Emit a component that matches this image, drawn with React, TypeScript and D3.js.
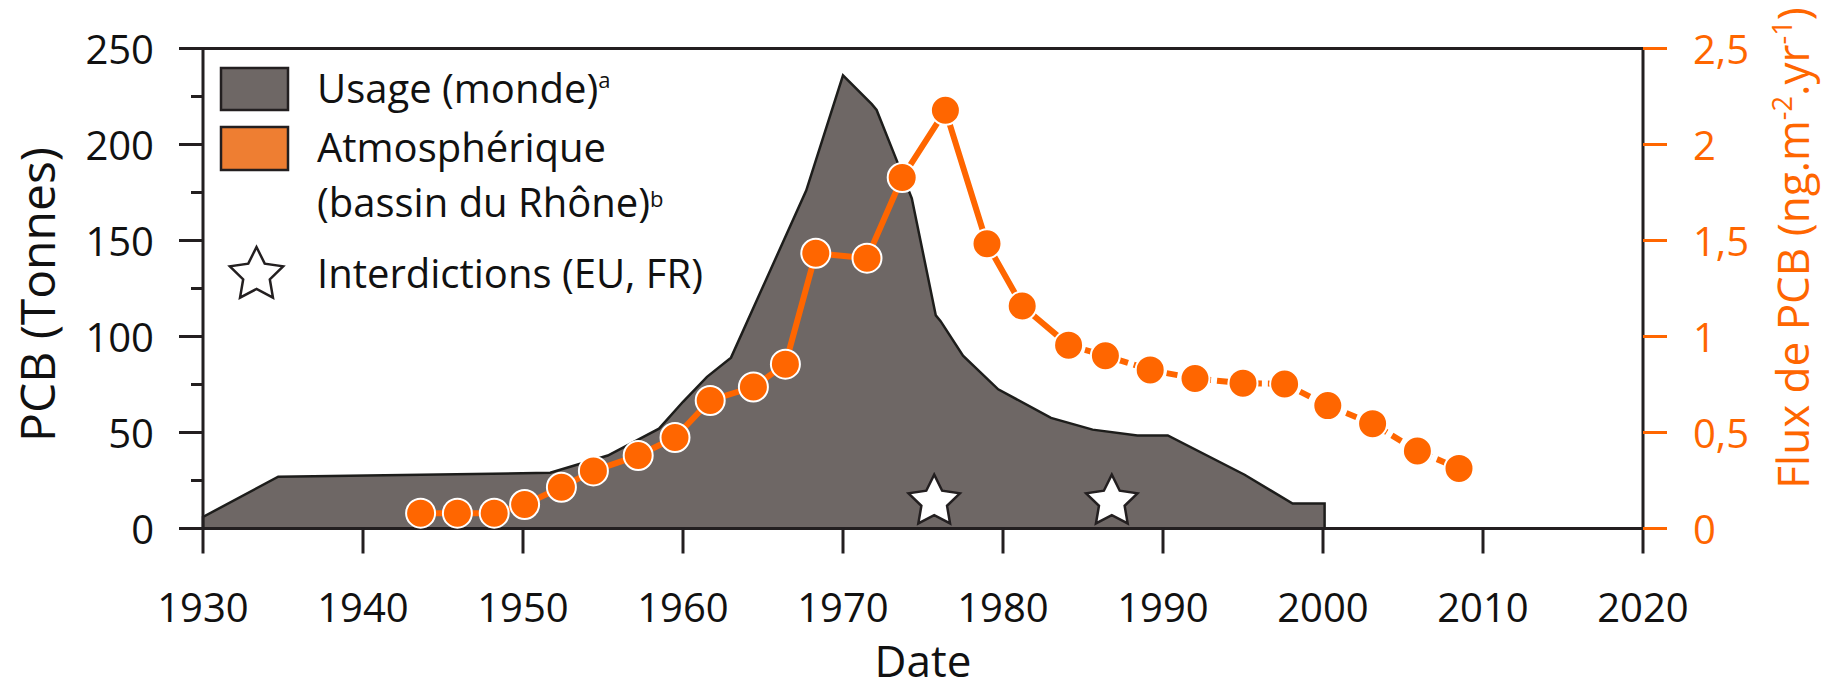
import React from 'react';
import * as d3 from 'd3';

// ---------- data ----------
const usageYears = [1930, 1934.7, 1951.7, 1955.3, 1958.5, 1960, 1961.5, 1963, 1967.7, 1970, 1971.8, 1972.1, 1973.2, 1974.3, 1975.8, 1976.1, 1977.5, 1979.7, 1983, 1985.6, 1988.4, 1990.3, 1995.1, 1998.1, 2000.1];
const usageValues = [6, 27, 29, 38, 52, 66, 79, 89, 176, 236, 221, 218, 195, 172, 111, 108, 90, 72.5, 57.6, 51.5, 48.5, 48.5, 28, 13, 13];

const fluxYears = [1943.6, 1945.9, 1948.2, 1950.1, 1952.4, 1954.4, 1957.2, 1959.5, 1961.7, 1964.4, 1966.4, 1968.3, 1971.5, 1973.7, 1976.4, 1979.0, 1981.2, 1984.1, 1986.4, 1989.2, 1992.0, 1995.0, 1997.6, 2000.3, 2003.1, 2005.9, 2008.5];
const fluxValues = [0.08, 0.08, 0.08, 0.125, 0.215, 0.3, 0.38, 0.474, 0.667, 0.737, 0.856, 1.434, 1.408, 1.828, 2.178, 1.483, 1.159, 0.955, 0.9, 0.826, 0.781, 0.757, 0.753, 0.64, 0.546, 0.404, 0.313];
const dashedFromIndex = 17;

const banYears = [1975.7, 1986.8];
const banLevel = 14;

const xTicks = [1930, 1940, 1950, 1960, 1970, 1980, 1990, 2000, 2010, 2020];
const leftTicks = [0, 50, 100, 150, 200, 250];
const leftMinorTicks = [25, 75, 125, 175, 225];
const rightTicks = [0, 0.5, 1, 1.5, 2, 2.5];
const rightTickLabels = ['0', '0,5', '1', '1,5', '2', '2,5'];

// ---------- layout / style ----------
const W = 1821;
const H = 691;
const PL = 203, PR = 1643, PT = 48.5, PB = 528.5;
const FONT = "'Open Sans', 'Noto Sans', sans-serif";
const AXIS = '#231f20';
const ORANGE = '#ff6600';
const ORANGE_SW = '#ee7e32';
const AREA = '#6e6765';

function starPath(cx: number, cy: number, R: number, r: number) {
  const pts: string[] = [];
  for (let i = 0; i < 10; i++) {
    const a = (-90 + i * 36) * Math.PI / 180;
    const rad = i % 2 === 0 ? R : r;
    pts.push(`${(cx + rad * Math.cos(a)).toFixed(2)},${(cy + rad * Math.sin(a)).toFixed(2)}`);
  }
  return 'M' + pts.join('L') + 'Z';
}

export default function App() {
  const x = d3.scaleLinear().domain([1930, 2020]).range([PL, PR]);
  const yL = d3.scaleLinear().domain([0, 250]).range([PB, PT]);
  const yR = d3.scaleLinear().domain([0, 2.5]).range([PB, PT]);

  const usagePts: [number, number][] = usageYears.map((yr, i) => [yr, usageValues[i]]);
  const outline: [number, number][] = [[usageYears[0], 0], ...usagePts, [usageYears[usageYears.length - 1], 0]];
  const areaPath = (d3.line<[number, number]>().x(d => x(d[0])).y(d => yL(d[1]))(outline) || '') + 'Z';

  const fluxPts: [number, number][] = fluxYears.map((yr, i) => [yr, fluxValues[i]]);
  const fl = d3.line<[number, number]>().x(d => x(d[0])).y(d => yR(d[1]));
  const solidPath = fl(fluxPts.slice(0, dashedFromIndex + 1)) || '';
  const dashPath = fl(fluxPts.slice(dashedFromIndex)) || '';

  return (
    <svg width={W} height={H} viewBox={`0 0 ${W} ${H}`}
      style={{ position: 'absolute', left: 0, top: 0, background: '#fff' }}
      fontFamily={FONT}>
      <rect x={0} y={0} width={W} height={H} fill="#fff" />

      {/* usage area */}
      <path d={areaPath} fill={AREA} stroke="#1d1d1b" strokeWidth={2.5} strokeLinejoin="miter" />

      {/* frame */}
      <line x1={PL} x2={PR} y1={PT} y2={PT} stroke={AXIS} strokeWidth={3} />
      <line x1={PL} x2={PR} y1={PB} y2={PB} stroke={AXIS} strokeWidth={3} />
      <line x1={PL} x2={PL} y1={PT} y2={PB} stroke={AXIS} strokeWidth={3} />
      <line x1={PR} x2={PR} y1={PT} y2={PB} stroke={AXIS} strokeWidth={3} />

      {/* x axis */}
      {xTicks.map(t => (
        <g key={'x' + t}>
          <line x1={x(t)} x2={x(t)} y1={PB} y2={PB + 25} stroke={AXIS} strokeWidth={3} />
          <text x={x(t)} y={621.5} fontSize={40} textAnchor="middle" fill="#111">{t}</text>
        </g>
      ))}
      <text x={(PL + PR) / 2} y={677} fontSize={44} textAnchor="middle" fill="#111">Date</text>

      {/* left axis */}
      {leftTicks.map(t => (
        <g key={'l' + t}>
          <line x1={PL - 24} x2={PL} y1={yL(t)} y2={yL(t)} stroke={AXIS} strokeWidth={3} />
          <text x={154} y={yL(t) + 15} fontSize={40} textAnchor="end" fill="#111">{t}</text>
        </g>
      ))}
      {leftMinorTicks.map(t => (
        <line key={'lm' + t} x1={PL - 12} x2={PL} y1={yL(t)} y2={yL(t)} stroke={AXIS} strokeWidth={3} />
      ))}
      <text transform={`translate(55, ${(PT + PB) / 2 + 6}) rotate(-90)`} fontSize={48} textAnchor="middle" fill="#111">PCB (Tonnes)</text>

      {/* right axis */}
      {rightTicks.map((t, i) => (
        <g key={'r' + t}>
          <line x1={PR} x2={PR + 24} y1={yR(t)} y2={yR(t)} stroke={ORANGE} strokeWidth={3} />
          <text x={1693} y={yR(t) + 15} fontSize={40} textAnchor="start" fill={ORANGE}>{rightTickLabels[i]}</text>
        </g>
      ))}
      <text transform={`translate(1809, 248) rotate(-90)`} fontSize={44} textAnchor="middle" fill={ORANGE}>
        Flux de PCB (ng.m<tspan fontSize={27} dy={-17}>-2</tspan><tspan dy={17}>.yr</tspan><tspan fontSize={27} dy={-17}>-1</tspan><tspan dy={17}>)</tspan>
      </text>

      {/* flux series */}
      <path d={solidPath} fill="none" stroke={ORANGE} strokeWidth={6} strokeLinejoin="round" />
      <path d={dashPath} fill="none" stroke={ORANGE} strokeWidth={6} strokeDasharray="11 6" />
      {fluxPts.map((d, i) => (
        <circle key={'c' + i} cx={x(d[0])} cy={yR(d[1])} r={14.5} fill={ORANGE} stroke="#fff" strokeWidth={2} />
      ))}

      {/* bans */}
      {banYears.map((yr, i) => (
        <path key={'s' + i} d={starPath(x(yr), yL(banLevel), 27, 13.5)} fill="#fff" stroke={AXIS} strokeWidth={2.5} strokeLinejoin="miter" />
      ))}

      {/* legend */}
      <rect x={221} y={68} width={67} height={42} fill={AREA} stroke={AXIS} strokeWidth={2.5} />
      <rect x={221} y={127} width={67} height={43} fill={ORANGE_SW} stroke={AXIS} strokeWidth={2.5} />
      <text x={317} y={103} fontSize={40} fill="#111">Usage (monde)<tspan fontSize={22} dy={-15}>a</tspan></text>
      <text x={317} y={161.5} fontSize={40} fill="#111">Atmosphérique</text>
      <text x={317} y={216.5} fontSize={40} fill="#111">(bassin du Rhône)<tspan fontSize={22} dy={-10}>b</tspan></text>
      <path d={starPath(256.5, 275, 28, 14)} fill="#fff" stroke={AXIS} strokeWidth={2.5} />
      <text x={317} y={288} fontSize={40} fill="#111">Interdictions (EU, FR)</text>
    </svg>
  );
}
